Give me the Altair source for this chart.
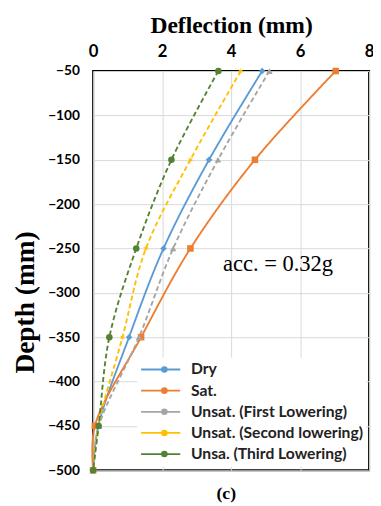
import altair as alt
import pandas as pd

depth = [-50, -150, -250, -350, -450, -500]
series_names = ["Dry", "Sat.", "Unsat. (First Lowering)", "Unsat. (Second lowering)", "Unsa. (Third Lowering)"]
dry = [4.90, 3.36, 2.04, 1.04, 0.15, 0.0]
sat = [7.03, 4.69, 2.82, 1.39, 0.05, 0.0]
unsat1 = [5.11, 3.62, 2.32, 1.33, 0.17, 0.0]
unsat2 = [4.28, 2.82, 1.53, 0.85, 0.15, 0.0]
unsat3 = [3.63, 2.27, 1.25, 0.47, 0.16, 0.0]
colors = ["#5B9BD5", "#ED7D31", "#A5A5A5", "#FFC000", "#548235"]
dashes = [[1, 0], [1, 0], [5, 3], [5, 3], [5, 3]]
star = "M0,-1L0.175,-0.303L0.866,-0.5L0.35,0L0.866,0.5L0.175,0.303L0,1L-0.175,0.303L-0.866,0.5L-0.35,0L-0.866,-0.5L-0.175,-0.303Z"
shapes = ["diamond", "square", "triangle-up", star, "circle"]
x_ticks = [0, 2, 4, 6, 8]
y_ticks = [-50, -100, -150, -200, -250, -300, -350, -400, -450, -500]
note_text = ["acc. = 0.32g"]
note_x = [5.36]
note_y = [-268]

rows = []
for name, vals in zip(series_names, [dry, sat, unsat1, unsat2, unsat3]):
    for d, v in zip(depth, vals):
        rows.append({"series": name, "depth": d, "defl": v})
df = pd.DataFrame(rows)
notes = pd.DataFrame({"t": note_text, "x": note_x, "y": note_y})

xenc = alt.X("defl:Q", scale=alt.Scale(domain=[0, 8], nice=False),
             axis=alt.Axis(orient="top", values=x_ticks, title="Deflection (mm)",
                           titleFont="Liberation Serif", titleFontSize=24, titleFontWeight="bold",
                           titleColor="black", titleX=141, titleY=-39, titleBaseline="alphabetic",
                           labelFont="Lato", labelFontSize=17, labelFontWeight="bold", labelColor="black",
                           labelBaseline="alphabetic", labelPadding=15, ticks=False, tickSize=0,
                           domain=False, gridColor="#d9d9d9", labelFlush=False))
yenc = alt.Y("depth:Q", scale=alt.Scale(domain=[-500, -50], nice=False),
             axis=alt.Axis(values=y_ticks, title="Depth (mm)", format="d",
                           titleFont="Liberation Serif", titleFontSize=28, titleFontWeight="bold",
                           titleColor="black", titleAngle=-90, titleX=-69, titleY=236,
                           titleBaseline="middle", titleAlign="center",
                           labelFont="Lato", labelFontSize=14, labelFontWeight="bold", labelColor="black",
                           labelPadding=14, ticks=False, tickSize=0, domain=False, gridColor="#d9d9d9"))

line_legend = alt.Legend(title=None, orient="none", legendX=45, legendY=293, symbolType="stroke",
                         symbolSize=1600, symbolStrokeWidth=1.8, clipHeight=18, rowPadding=3.6,
                         labelFont="Lato", labelFontSize=16, labelFontWeight="bold", labelColor="#222222",
                         labelOffset=10, padding=3, fillColor="white", labelLimit=300)
point_legend = alt.Legend(title=None, orient="none", legendX=64.8, legendY=296,
                          symbolSize=45, clipHeight=18, rowPadding=3.6, labelExpr="''",
                          labelFontSize=16, padding=0, symbolStrokeWidth=0, symbolOpacity=1)

cscale = alt.Scale(domain=series_names, range=colors)

lines = alt.Chart(df).mark_line(strokeWidth=1.9, interpolate="catmull-rom").encode(
    x=xenc, y=yenc,
    color=alt.Color("series:N", scale=cscale, legend=line_legend, sort=series_names),
    strokeDash=alt.StrokeDash("series:N", scale=alt.Scale(domain=series_names, range=dashes),
                              legend=line_legend, sort=series_names),
    order=alt.Order("depth:Q", sort="descending"),
)
points = alt.Chart(df).mark_point(filled=True, size=45, opacity=1).encode(
    x=xenc, y=yenc,
    color=alt.Color("series:N", scale=cscale, legend=point_legend, sort=series_names),
    shape=alt.Shape("series:N", scale=alt.Scale(domain=series_names, range=shapes),
                    legend=point_legend, sort=series_names),
)
note = alt.Chart(notes).mark_text(font="Liberation Serif", fontSize=23, color="black").encode(
    x=alt.X("x:Q"), y=alt.Y("y:Q"), text="t:N")

chart = alt.layer(lines, points, note).resolve_scale(color="independent").resolve_legend(
    color="independent").properties(
    width=282, height=408,
    autosize=alt.AutoSizeParams(type="none"),
    padding={"left": 87, "top": 59, "right": 4, "bottom": 28},
    title=alt.TitleParams("(c)", orient="bottom", font="Liberation Serif", fontSize=18,
                          fontWeight="bold", color="black", offset=8, dx=-5, anchor="middle"),
).configure_view(stroke="black", strokeWidth=2)

chart.save("out.html", embed_options={"renderer": "svg", "actions": False})
